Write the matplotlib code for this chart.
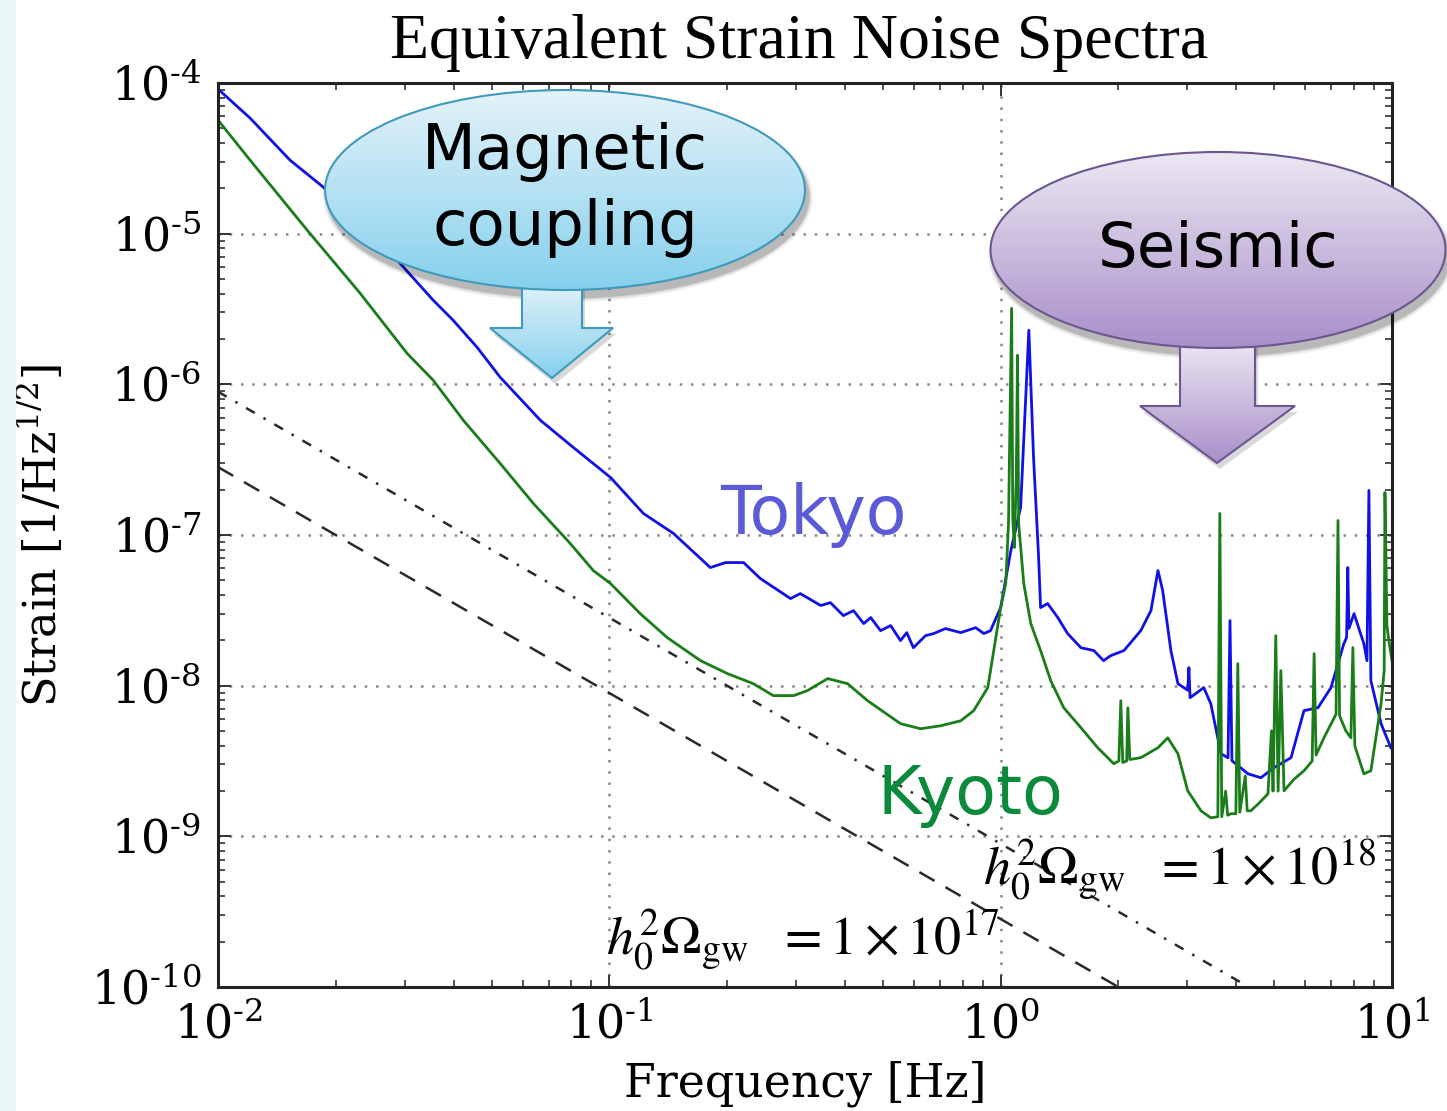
import numpy as np
import matplotlib.pyplot as plt
from matplotlib.patches import Ellipse, Polygon, Rectangle
from matplotlib.colors import LinearSegmentedColormap
from matplotlib.ticker import FixedLocator, LogLocator, NullFormatter

plt.rcParams['mathtext.fontset'] = 'dejavuserif'

# log10(frequency [Hz]), log10(strain)
tokyo = [(-2.000, -4.040), (-1.918, -4.233), (-1.816, -4.512), (-1.731, -4.691),
         (-1.542, -5.176), (-1.450, -5.442), (-1.399, -5.575), (-1.338, -5.754),
         (-1.279, -5.953), (-1.176, -6.239), (-1.092, -6.419), (-0.997, -6.618),
         (-0.913, -6.857), (-0.836, -6.990), (-0.742, -7.216), (-0.703, -7.183),
         (-0.657, -7.183), (-0.614, -7.289), (-0.537, -7.422), (-0.512, -7.389),
         (-0.460, -7.468), (-0.435, -7.449), (-0.402, -7.535), (-0.376, -7.502),
         (-0.350, -7.588), (-0.332, -7.548), (-0.307, -7.635), (-0.281, -7.601),
         (-0.256, -7.701), (-0.240, -7.648), (-0.223, -7.748), (-0.192, -7.668),
         (-0.171, -7.654), (-0.141, -7.621), (-0.102, -7.648), (-0.064, -7.615),
         (-0.043, -7.654), (-0.026, -7.635), (0.000, -7.482), (0.026, -7.103),
         (0.051, -6.817), (0.072, -5.641), (0.084, -6.485), (0.097, -7.150),
         (0.102, -7.482), (0.120, -7.455), (0.146, -7.548), (0.171, -7.654),
         (0.205, -7.748), (0.238, -7.767), (0.263, -7.834), (0.281, -7.801),
         (0.315, -7.767), (0.358, -7.635), (0.384, -7.502), (0.402, -7.236),
         (0.414, -7.369), (0.435, -7.767), (0.453, -7.987), (0.478, -8.030),
         (0.481, -7.880), (0.484, -8.080), (0.519, -8.013), (0.537, -8.120),
         (0.563, -8.452), (0.581, -8.479), (0.586, -7.568), (0.591, -8.498),
         (0.632, -8.585), (0.665, -8.611), (0.698, -8.545), (0.742, -8.478),
         (0.775, -8.166), (0.811, -8.146), (0.844, -8.013), (0.877, -7.721),
         (0.884, -7.680), (0.887, -7.216), (0.890, -7.620), (0.903, -7.522),
         (0.928, -7.721), (0.936, -7.834), (0.941, -6.704), (0.946, -7.967),
         (0.972, -8.252), (0.997, -8.412)]

kyoto = [(-2.000, -4.246), (-1.918, -4.512), (-1.772, -4.977), (-1.637, -5.395),
         (-1.517, -5.794), (-1.450, -5.973), (-1.373, -6.239), (-1.279, -6.525),
         (-1.194, -6.791), (-1.100, -7.056), (-1.041, -7.236), (-0.997, -7.322),
         (-0.921, -7.522), (-0.852, -7.681), (-0.767, -7.834), (-0.698, -7.920),
         (-0.632, -7.987), (-0.581, -8.066), (-0.529, -8.066), (-0.494, -8.033),
         (-0.442, -7.953), (-0.391, -7.987), (-0.340, -8.100), (-0.256, -8.252),
         (-0.205, -8.286), (-0.153, -8.266), (-0.102, -8.233), (-0.069, -8.166),
         (-0.033, -8.013), (0.000, -7.482), (0.013, -7.322), (0.020, -6.924),
         (0.028, -5.495), (0.031, -6.900), (0.035, -7.083), (0.040, -6.600),
         (0.043, -5.807), (0.046, -6.924), (0.059, -7.322), (0.077, -7.588),
         (0.102, -7.767), (0.128, -7.967), (0.161, -8.146), (0.205, -8.279),
         (0.248, -8.412), (0.289, -8.518), (0.302, -8.500), (0.307, -8.100),
         (0.312, -8.510), (0.322, -8.500), (0.325, -8.146), (0.330, -8.490),
         (0.358, -8.478), (0.402, -8.412), (0.427, -8.346), (0.453, -8.452),
         (0.478, -8.698), (0.512, -8.831), (0.537, -8.877), (0.555, -8.870),
         (0.560, -6.857), (0.565, -8.870), (0.575, -8.700), (0.580, -8.860),
         (0.588, -8.850), (0.601, -8.850), (0.606, -7.854), (0.611, -8.840),
         (0.625, -8.600), (0.630, -8.830), (0.639, -8.831), (0.660, -8.780),
         (0.683, -8.718), (0.692, -8.300), (0.696, -8.700), (0.703, -7.668),
         (0.709, -8.700), (0.716, -7.900), (0.724, -8.698), (0.750, -8.620),
         (0.775, -8.565), (0.796, -8.500), (0.801, -7.787), (0.806, -8.460),
         (0.826, -8.346), (0.857, -8.190), (0.862, -6.904), (0.866, -8.200),
         (0.882, -8.300), (0.895, -8.346), (0.900, -7.747), (0.905, -8.400),
         (0.928, -8.585), (0.946, -8.565), (0.972, -8.120), (0.980, -7.900),
         (0.982, -6.718), (0.987, -7.600), (0.992, -7.700), (1.000, -7.834)]

# stochastic background reference lines, h0^2 Omega_gw
omega_levels = [1e17, 1e18]
omega_styles = [(0, (7, 5)), (0, (4, 4, 1, 4))]
H100 = 3.24e-18  # 100 km/s/Mpc in 1/s

tokyo_f, tokyo_h = 10 ** np.array(tokyo).T
kyoto_f, kyoto_h = 10 ** np.array(kyoto).T

fig = plt.figure(figsize=(14.47, 11.11), dpi=100)
W, H = 1447, 1111

# pale slide strip on the left edge
fig.patches.append(Rectangle((0, 0), 15 / W, 1, transform=fig.transFigure,
                             color='#eaf5f5', zorder=0))

ax = fig.add_axes([218 / W, 1 - 987 / H, (1392 - 218) / W, (987 - 83) / H])
ax.set_xscale('log')
ax.set_yscale('log')
ax.set_xlim(1e-2, 1e1)
ax.set_ylim(1e-10, 1e-4)

f = np.logspace(-2, 1, 200)
for om, ls in zip(omega_levels, omega_styles):
    h = np.sqrt(3 * H100 ** 2 * om / (4 * np.pi ** 2 * f ** 3))
    ax.plot(f, h, ls=ls, color='#2a2a2a', lw=1.8)

ax.plot(tokyo_f, tokyo_h, color='#1010e8', lw=2.0)
ax.plot(kyoto_f, kyoto_h, color='#1a7d1a', lw=2.0)

ax.grid(True, which='major', linestyle=(0, (1, 3.5)), color='#888888', lw=1.8)
ax.xaxis.set_major_locator(FixedLocator([1e-2, 1e-1, 1e0, 1e1]))
ax.xaxis.set_minor_locator(LogLocator(subs=np.arange(2, 10)))
ax.yaxis.set_major_locator(FixedLocator([10.0 ** k for k in range(-10, -3)]))
ax.yaxis.set_minor_locator(LogLocator(subs=np.arange(2, 10), numticks=20))
ax.xaxis.set_minor_formatter(NullFormatter())
ax.yaxis.set_minor_formatter(NullFormatter())
ax.set_xticklabels([r'$10^{\text{-}2}$', r'$10^{\text{-}1}$', r'$10^{0}$', r'$10^{1}$'])
ax.set_yticklabels([r'$10^{\text{-}%d}$' % k for k in range(10, 3, -1)])
ax.tick_params(which='both', direction='in', top=True, right=True,
               labelsize=33, color='#333333')
ax.tick_params(which='major', length=9, width=1.4, pad=12)
ax.tick_params(which='minor', length=5, width=1.2)
for lab in ax.get_xticklabels() + ax.get_yticklabels():
    lab.set_fontfamily('DejaVu Serif')
for s in ax.spines.values():
    s.set_linewidth(2.2)
    s.set_color('#222222')

ax.set_xlabel('Frequency [Hz]', fontsize=33, family='DejaVu Serif', labelpad=8)
ax.set_ylabel(r'Strain [1/Hz$^{1/2}$]', fontsize=32, family='DejaVu Serif', labelpad=18)

fig.text(799 / W, 1 - 58 / H, 'Equivalent Strain Noise Spectra', ha='center',
         va='baseline', fontsize=46, family='Liberation Serif')

# overlay in pixel coordinates for the callouts
ov = fig.add_axes([0, 0, 1, 1], zorder=5)
ov.set_xlim(0, W)
ov.set_ylim(H, 0)
ov.axis('off')
ov.patch.set_alpha(0)


def gradient_fill(patch, c_top, c_bot, z):
    ov.add_patch(patch)
    x0, y0, x1, y1 = patch.get_path().transformed(patch.get_patch_transform()).get_extents().bounds
    x1, y1 = x0 + x1, y0 + y1
    cmap = LinearSegmentedColormap.from_list('g', [c_top, c_bot])
    im = ov.imshow(np.linspace(0, 1, 256)[:, None], extent=[x0, x1, y1, y0],
                   cmap=cmap, aspect='auto', zorder=z, interpolation='bilinear')
    im.set_clip_path(patch)


def callout(cx, cy, ew, eh, arrow, c_top, c_bot, c_edge, text, fs, ls):
    # shadow
    for k, a in [(10, 0.06), (6, 0.10), (3, 0.14)]:
        ov.add_patch(Ellipse((cx + 3, cy + 7), ew + k, eh + k, color='black',
                             alpha=a, lw=0, zorder=2))
    ov.add_patch(Polygon([(x + 3, y + 6) for x, y in arrow], closed=True,
                         color='black', alpha=0.15, lw=0, zorder=2))
    arr = Polygon(arrow, closed=True, facecolor='none', edgecolor='none', zorder=3)
    gradient_fill(arr, c_top, c_bot, 3)
    ov.add_patch(Polygon(arrow, closed=True, facecolor='none', edgecolor=c_edge,
                         lw=1.5, zorder=3.5))
    ell = Ellipse((cx, cy), ew, eh, facecolor='none', edgecolor='none', zorder=4)
    gradient_fill(ell, c_top, c_bot, 4)
    ov.add_patch(Ellipse((cx, cy), ew, eh, facecolor='none', edgecolor=c_edge,
                         lw=1.5, zorder=4.5))
    ov.text(cx, cy, text, ha='center', va='center', fontsize=fs,
            family='DejaVu Sans', linespacing=ls, zorder=6)


mag_arrow = [(522, 280), (582, 280), (582, 328), (613, 328), (552, 378),
             (490, 328), (522, 328)]
callout(565, 190, 480, 200, mag_arrow, '#e4f3fa', '#86d0ec', '#3f9abb',
        'Magnetic\ncoupling', 45, 1.32)

seis_arrow = [(1180, 340), (1255, 340), (1255, 406), (1295, 406), (1217, 463),
              (1140, 406), (1180, 406)]
callout(1218, 250, 455, 196, seis_arrow, '#ece8f3', '#a88fc9', '#6c5690',
        'Seismic', 45, 1.2)

ov.text(813, 515, 'Tokyo', ha='center', va='center', fontsize=48,
        family='DejaVu Sans', color='#5b5bd8', zorder=6)
ov.text(970, 795, 'Kyoto', ha='center', va='center', fontsize=48,
        family='DejaVu Sans', color='#0b8a3c', zorder=6)
ov.text(606, 955, r'$h_0^2\Omega_{\mathrm{gw}}\ \ =1\times10^{17}$', ha='left',
        va='baseline', fontsize=39, math_fontfamily='stix', zorder=6)
ov.text(983, 885, r'$h_0^2\Omega_{\mathrm{gw}}\ \ =1\times10^{18}$', ha='left',
        va='baseline', fontsize=39, math_fontfamily='stix', zorder=6)

fig.savefig('out.png', dpi=100)
